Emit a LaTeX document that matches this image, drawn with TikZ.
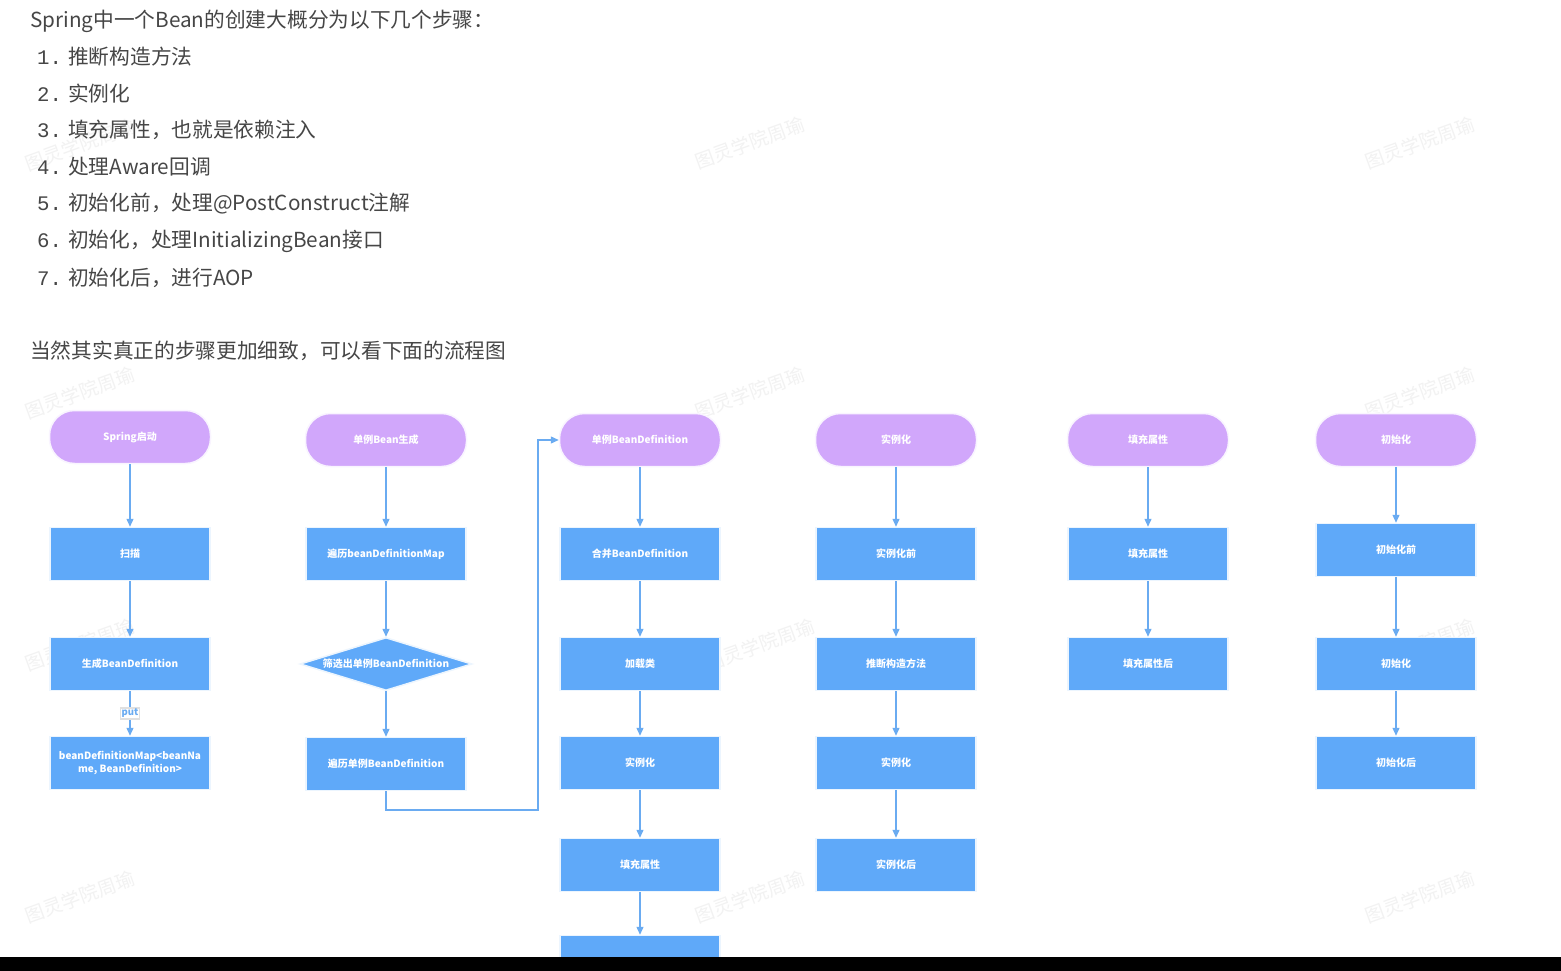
\documentclass[tikz,border=0pt]{standalone}
\usepackage{fontspec}
\setmainfont{Noto Sans CJK SC}
\setmonofont{Liberation Mono}
\usetikzlibrary{arrows.meta,shapes.geometric}
\definecolor{termpurple}{HTML}{D1A7FB}
\definecolor{boxblue}{HTML}{5FA9F9}
\definecolor{lineblue}{HTML}{6AABF1}
\definecolor{txtgray}{HTML}{464646}

\begin{document}
\begin{tikzpicture}[x=1pt,y=-1pt,
	para/.style={anchor=west,inner sep=0pt,text=txtgray,font=\fontsize{20.7}{24}\selectfont},
	wm/.style={text=black!5,rotate=20,font=\fontsize{19}{21}\selectfont},
	term/.style={rectangle,rounded corners=25pt,fill=termpurple,draw=termpurple!12,line width=1.5pt,minimum width=161pt,minimum height=53pt,text=white,font=\fontsize{10}{11}\selectfont\bfseries},
	box/.style={rectangle,fill=boxblue,draw=boxblue!12,line width=1.5pt,minimum width=160pt,minimum height=53pt,align=center,text=white,font=\fontsize{10}{12.5}\selectfont\bfseries},
	dia/.style={diamond,fill=boxblue,draw=boxblue!12,line width=1.5pt,minimum width=172pt,minimum height=53pt,inner sep=0pt},
	diatext/.style={text=white,font=\fontsize{10}{11}\selectfont\bfseries},
	putlbl/.style={fill=white,draw=black!12,inner sep=1pt,text=lineblue,font=\fontsize{9.5}{10}\selectfont\bfseries},
	flow/.style={draw=lineblue,line width=1.3pt,-{Triangle[width=7pt,length=8pt]}}]
	\useasboundingbox (0,0) rectangle (1561,971);
	\fill[white] (0,0) rectangle (1561,971);
	\node[wm] (w1) at (80,145) {图灵学院周瑜};
	\node[wm] (w2) at (750,143) {图灵学院周瑜};
	\node[wm] (w3) at (1420,143) {图灵学院周瑜};
	\node[wm] (w4) at (80,393) {图灵学院周瑜};
	\node[wm] (w5) at (750,393) {图灵学院周瑜};
	\node[wm] (w6) at (1420,393) {图灵学院周瑜};
	\node[wm] (w7) at (80,645) {图灵学院周瑜};
	\node[wm] (w8) at (760,645) {图灵学院周瑜};
	\node[wm] (w9) at (1420,645) {图灵学院周瑜};
	\node[wm] (w10) at (80,897) {图灵学院周瑜};
	\node[wm] (w11) at (750,897) {图灵学院周瑜};
	\node[wm] (w12) at (1420,897) {图灵学院周瑜};

	\node[para] (s0) at (30,21) {Spring中一个Bean的创建大概分为以下几个步骤：};
	\node[para] (s1) at (37,57) {{\ttfamily 1.} 推断构造方法};
	\node[para] (s2) at (37,94) {{\ttfamily 2.} 实例化};
	\node[para] (s3) at (37,130) {{\ttfamily 3.} 填充属性，也就是依赖注入};
	\node[para] (s4) at (37,167) {{\ttfamily 4.} 处理Aware回调};
	\node[para] (s5) at (37,204) {{\ttfamily 5.} 初始化前，处理@PostConstruct注解};
	\node[para] (s6) at (37,241) {{\ttfamily 6.} 初始化，处理InitializingBean接口};
	\node[para] (s7) at (37,278) {{\ttfamily 7.} 初始化后，进行AOP};
	\node[para] (note) at (30,351) {当然其实真正的步骤更加细致，可以看下面的流程图};

	\node[term] (a0) at (130,437) {Spring启动};
	\node[box] (a1) at (130,554) {扫描};
	\node[box] (a2) at (130,664) {生成BeanDefinition};
	\node[box] (a3) at (130,763) {beanDefinitionMap<beanNa\\me, BeanDefinition>};

	\node[term] (b0) at (386,440) {单例Bean生成};
	\node[box] (b1) at (386,554) {遍历beanDefinitionMap};
	\node[dia, label={[diatext]center:筛选出单例BeanDefinition}] (b2) at (386,664) {};
	\node[box] (b3) at (386,764) {遍历单例BeanDefinition};

	\node[term] (c0) at (640,440) {单例BeanDefinition};
	\node[box] (c1) at (640,554) {合并BeanDefinition};
	\node[box] (c2) at (640,664) {加载类};
	\node[box] (c3) at (640,763) {实例化};
	\node[box] (c4) at (640,865) {填充属性};
	\node[box] (c5) at (640,962) {};

	\node[term] (d0) at (896,440) {实例化};
	\node[box] (d1) at (896,554) {实例化前};
	\node[box] (d2) at (896,664) {推断构造方法};
	\node[box] (d3) at (896,763) {实例化};
	\node[box] (d4) at (896,865) {实例化后};

	\node[term] (e0) at (1148,440) {填充属性};
	\node[box] (e1) at (1148,554) {填充属性};
	\node[box] (e2) at (1148,664) {填充属性后};

	\node[term] (f0) at (1396,440) {初始化};
	\node[box] (f1) at (1396,550) {初始化前};
	\node[box] (f2) at (1396,664) {初始化};
	\node[box] (f3) at (1396,763) {初始化后};

	\draw[flow] (a0) -- (a1);
	\draw[flow] (a1) -- (a2);
	\draw[flow] (a2) -- node[putlbl]{put} (a3);
	\draw[flow] (b0) -- (b1);
	\draw[flow] (b1) -- (b2);
	\draw[flow] (b2) -- (b3);
	\coordinate (loop) at (538,810);
	\draw[flow] (b3) |- (loop) |- (c0);
	\draw[flow] (c0) -- (c1);
	\draw[flow] (c1) -- (c2);
	\draw[flow] (c2) -- (c3);
	\draw[flow] (c3) -- (c4);
	\draw[flow] (c4) -- (c5);
	\draw[flow] (d0) -- (d1);
	\draw[flow] (d1) -- (d2);
	\draw[flow] (d2) -- (d3);
	\draw[flow] (d3) -- (d4);
	\draw[flow] (e0) -- (e1);
	\draw[flow] (e1) -- (e2);
	\draw[flow] (f0) -- (f1);
	\draw[flow] (f1) -- (f2);
	\draw[flow] (f2) -- (f3);

	\fill[black] (0,957) rectangle (1561,971);
\end{tikzpicture}
\end{document}
